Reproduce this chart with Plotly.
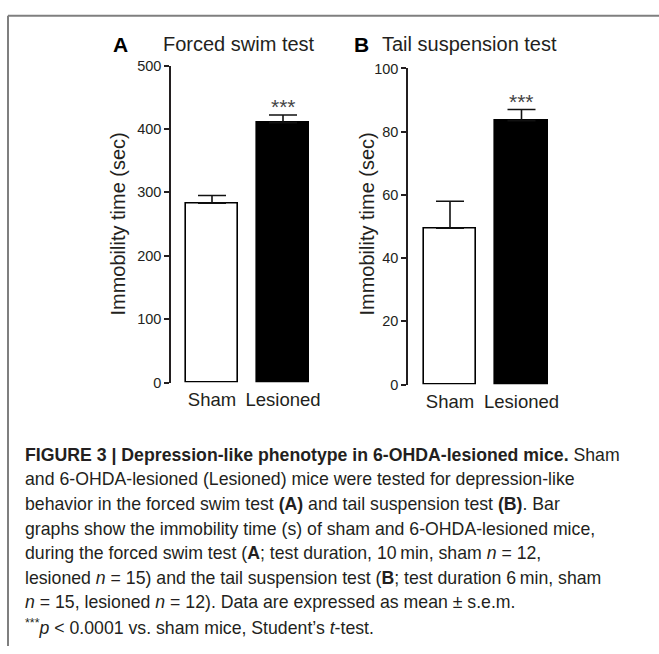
import plotly.graph_objects as go

# ---------------- data ----------------
categories = ["Sham", "Lesioned"]
fst_mean = [283, 410]
fst_sem = [12, 12]
tst_mean = [49.5, 83.5]
tst_sem = [8.5, 3.5]
fst_ticks = [0, 100, 200, 300, 400, 500]
tst_ticks = [0, 20, 40, 60, 80, 100]
bar_fills = ["white", "black"]
significance = ["", "***"]

caption_lines = [
    "<b>FIGURE 3 | Depression-like phenotype in 6-OHDA-lesioned mice.</b> Sham",
    "and 6-OHDA-lesioned (Lesioned) mice were tested for depression-like",
    "behavior in the forced swim test <b>(A)</b> and tail suspension test <b>(B)</b>. Bar",
    "graphs show the immobility time (s) of sham and 6-OHDA-lesioned mice,",
    "during the forced swim test (<b>A</b>; test duration, 10\u2009min, sham <i>n</i> = 12,",
    "lesioned <i>n</i> = 15) and the tail suspension test (<b>B</b>; test duration 6\u2009min, sham",
    "<i>n</i> = 15, lesioned <i>n</i> = 12). Data are expressed as mean \u00b1 s.e.m.",
    "<sup>***</sup><i>p</i> &lt; 0.0001 vs. sham mice, Student\u2019s <i>t</i>-test.",
]

# ---------------- layout helpers ----------------
W, H = 659, 654
FONT = "Liberation Sans, Arial, Helvetica, sans-serif"
INK = "#231f20"


def px(x):
    return x / W


def py(y):
    return 1 - y / H


fig = go.Figure()

panels = [
    # (xaxis, yaxis, means, sems, ticks, axis_left_px, first_center_px, spacing_px, right_px, top_px, bottom_px)
    ("x", "y", fst_mean, fst_sem, fst_ticks, 171, 212, 71, 322, 59, 384),
    ("x2", "y2", tst_mean, tst_sem, tst_ticks, 408, 450, 71.5, 562, 62, 386),
]

for i, (xa, ya, means, sems, ticks, axl, c0, sp, axr, top, bot) in enumerate(panels):
    fig.add_trace(go.Bar(
        x=[0, 1], y=means, width=0.73,
        marker=dict(color=bar_fills, line=dict(color="black", width=1.6)),
        error_y=dict(type="data", symmetric=False, array=sems,
                     arrayminus=[0, 0], color="#111", thickness=1.6, width=14),
        xaxis=xa, yaxis=ya, showlegend=False, hoverinfo="skip",
    ))
    sfx = "" if i == 0 else str(i + 1)
    fig.layout["xaxis" + sfx] = dict(
        domain=[px(axl), px(axr)],
        range=[(axl - c0) / sp, (axr - c0) / sp],
        tickmode="array", tickvals=[0, 1], ticktext=categories,
        showline=False, ticks="", showgrid=False, zeroline=False,
        ticklabelstandoff=4,
        tickfont=dict(family=FONT, size=18.5, color=INK),
        anchor=ya, fixedrange=True,
    )
    fig.layout["yaxis" + sfx] = dict(
        domain=[py(bot), py(top)],
        range=[ticks[0], ticks[-1]],
        tickmode="array", tickvals=ticks,
        showline=True, linecolor=INK, linewidth=1.5,
        ticks="outside", ticklen=5, tickwidth=1.5, tickcolor=INK,
        showgrid=False, zeroline=False,
        tickfont=dict(family=FONT, size=14.5, color=INK),
        anchor=xa, fixedrange=True,
    )
    for k, s in enumerate(significance):
        if s:
            fig.add_annotation(
                x=k, y=means[k] + sems[k], xref=xa, yref=ya,
                text=s, showarrow=False, yanchor="bottom", yshift=-5,
                font=dict(family=FONT, size=21, color="#444"),
            )

annotations = []
# panel letters and titles
annotations += [
    dict(x=px(120), y=py(37), text="<b>A</b>", font=dict(size=21, color="black")),
    dict(x=px(239), y=py(37), text="Forced swim test", font=dict(size=20, color=INK)),
    dict(x=px(362), y=py(37), text="<b>B</b>", font=dict(size=21, color="black")),
    dict(x=px(380), y=py(37), text="Tail suspension test", xanchor="left",
         font=dict(size=20, color=INK)),
    dict(x=px(118), y=py(222), text="Immobility time (sec)", textangle=-90,
         font=dict(size=20, color=INK)),
    dict(x=px(367), y=py(222), text="Immobility time (sec)", textangle=-90,
         font=dict(size=20, color=INK)),
]
for k, line in enumerate(caption_lines):
    annotations.append(dict(
        x=px(23), y=py(458 + k * 25.2), text=line, xanchor="left",
        font=dict(size=17.7, color=INK),
    ))

for a in annotations:
    a.setdefault("xanchor", "center")
    a["font"]["family"] = FONT
    fig.add_annotation(xref="paper", yref="paper", yanchor="middle",
                       showarrow=False, **a)

# frame (top and left rules)
fig.add_shape(type="line", xref="paper", yref="paper",
              x0=px(8), x1=1, y0=py(8), y1=py(8),
              line=dict(color="#7f7f7f", width=2))
fig.add_shape(type="line", xref="paper", yref="paper",
              x0=px(8), x1=px(8), y0=py(8), y1=0,
              line=dict(color="#7f7f7f", width=2))

fig.update_layout(
    width=W, height=H, margin=dict(l=0, r=0, t=0, b=0),
    paper_bgcolor="white", plot_bgcolor="white",
    bargap=0, font=dict(family=FONT, color=INK),
)

fig.write_html("out.html", config={"displayModeBar": False})
